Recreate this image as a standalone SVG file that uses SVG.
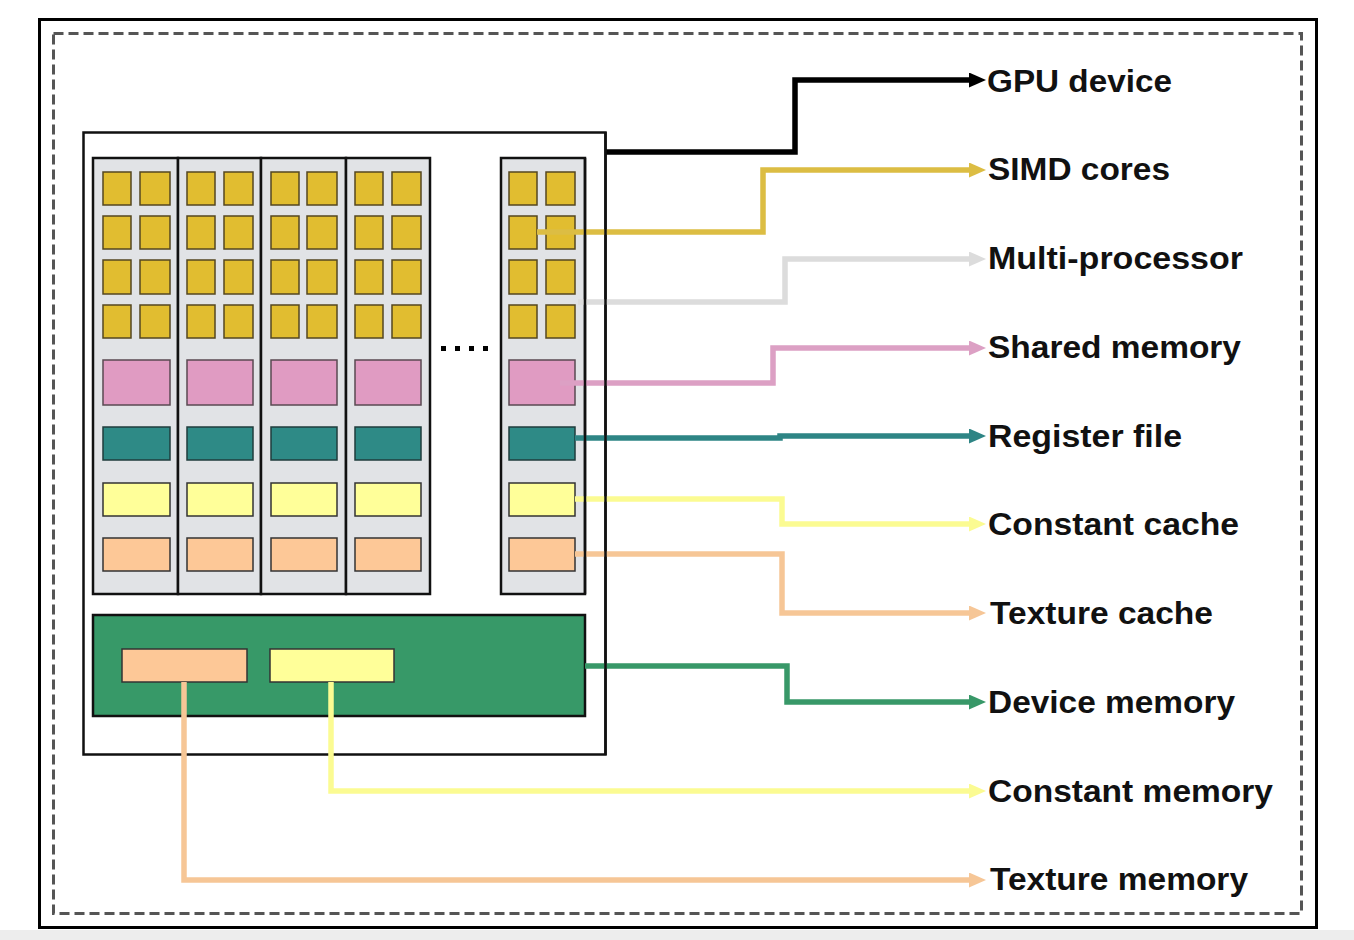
<svg xmlns="http://www.w3.org/2000/svg" width="1354" height="940" viewBox="0 0 1354 940">
<style>
.core{fill:#e1bd30;stroke:#544720;stroke-width:1.5}
.panel{fill:#e1e3e6;stroke:#111;stroke-width:2.5}
.shm{fill:#e09bc2;stroke:#5a4a52;stroke-width:1.5}
.reg{fill:#2e8a86;stroke:#1f3d3c;stroke-width:1.5}
.cc{fill:#ffff99;stroke:#333;stroke-width:1.5}
.tc{fill:#fdc897;stroke:#333;stroke-width:1.5}
.lbl{font-family:"Liberation Sans",Arial,sans-serif;font-weight:bold;font-size:31px;fill:#111}
.con{fill:none;stroke-width:5.5;stroke-linejoin:miter}
</style>
<defs>
<marker id="aBlack" viewBox="0 0 17 15" refX="6" refY="7.5" markerWidth="17" markerHeight="15" markerUnits="userSpaceOnUse" orient="auto"><path d="M0,0 L17,7.5 L0,15 z" fill="#000"/></marker>
<marker id="aGold" viewBox="0 0 17 15" refX="6" refY="7.5" markerWidth="17" markerHeight="15" markerUnits="userSpaceOnUse" orient="auto"><path d="M0,0 L17,7.5 L0,15 z" fill="#dcbd43"/></marker>
<marker id="aGray" viewBox="0 0 17 15" refX="6" refY="7.5" markerWidth="17" markerHeight="15" markerUnits="userSpaceOnUse" orient="auto"><path d="M0,0 L17,7.5 L0,15 z" fill="#dcdcdc"/></marker>
<marker id="aPink" viewBox="0 0 17 15" refX="6" refY="7.5" markerWidth="17" markerHeight="15" markerUnits="userSpaceOnUse" orient="auto"><path d="M0,0 L17,7.5 L0,15 z" fill="#dca0c4"/></marker>
<marker id="aTeal" viewBox="0 0 17 15" refX="6" refY="7.5" markerWidth="17" markerHeight="15" markerUnits="userSpaceOnUse" orient="auto"><path d="M0,0 L17,7.5 L0,15 z" fill="#2e8585"/></marker>
<marker id="aYellow" viewBox="0 0 17 15" refX="6" refY="7.5" markerWidth="17" markerHeight="15" markerUnits="userSpaceOnUse" orient="auto"><path d="M0,0 L17,7.5 L0,15 z" fill="#fbfb92"/></marker>
<marker id="aPeach" viewBox="0 0 17 15" refX="6" refY="7.5" markerWidth="17" markerHeight="15" markerUnits="userSpaceOnUse" orient="auto"><path d="M0,0 L17,7.5 L0,15 z" fill="#f6c696"/></marker>
<marker id="aGreen" viewBox="0 0 17 15" refX="6" refY="7.5" markerWidth="17" markerHeight="15" markerUnits="userSpaceOnUse" orient="auto"><path d="M0,0 L17,7.5 L0,15 z" fill="#389868"/></marker>
</defs>
<rect x="0" y="0" width="1354" height="940" fill="#fff"/>
<rect x="0" y="930" width="1354" height="10" fill="#ededed"/>
<g id="frame">
<rect x="39.5" y="19.5" width="1277" height="908" fill="#fff" stroke="#000" stroke-width="3"/>
<rect x="53.5" y="33.5" width="1248" height="880" fill="none" stroke="#555" stroke-width="3" stroke-dasharray="10,5"/>
</g>
<g id="gpu-device">
<rect x="83.5" y="132.5" width="522" height="622" fill="#fff" stroke="#111" stroke-width="2.5"/>
</g>
<g id="mp1">
<rect class="panel" x="93" y="158" width="85" height="436"/>
<rect class="core" x="103" y="172" width="28" height="33"/><rect class="core" x="140" y="172" width="30" height="33"/>
<rect class="core" x="103" y="216" width="28" height="33"/><rect class="core" x="140" y="216" width="30" height="33"/>
<rect class="core" x="103" y="260" width="28" height="34"/><rect class="core" x="140" y="260" width="30" height="34"/>
<rect class="core" x="103" y="305" width="28" height="33"/><rect class="core" x="140" y="305" width="30" height="33"/>
<rect class="shm" x="103" y="360" width="67" height="45"/>
<rect class="reg" x="103" y="427" width="67" height="33"/>
<rect class="cc" x="103" y="483" width="67" height="33"/>
<rect class="tc" x="103" y="538" width="67" height="33"/>
</g>
<g id="mp2">
<rect class="panel" x="178" y="158" width="83" height="436"/>
<rect class="core" x="187" y="172" width="28" height="33"/><rect class="core" x="224" y="172" width="29" height="33"/>
<rect class="core" x="187" y="216" width="28" height="33"/><rect class="core" x="224" y="216" width="29" height="33"/>
<rect class="core" x="187" y="260" width="28" height="34"/><rect class="core" x="224" y="260" width="29" height="34"/>
<rect class="core" x="187" y="305" width="28" height="33"/><rect class="core" x="224" y="305" width="29" height="33"/>
<rect class="shm" x="187" y="360" width="66" height="45"/>
<rect class="reg" x="187" y="427" width="66" height="33"/>
<rect class="cc" x="187" y="483" width="66" height="33"/>
<rect class="tc" x="187" y="538" width="66" height="33"/>
</g>
<g id="mp3">
<rect class="panel" x="261" y="158" width="85" height="436"/>
<rect class="core" x="271" y="172" width="28" height="33"/><rect class="core" x="307" y="172" width="30" height="33"/>
<rect class="core" x="271" y="216" width="28" height="33"/><rect class="core" x="307" y="216" width="30" height="33"/>
<rect class="core" x="271" y="260" width="28" height="34"/><rect class="core" x="307" y="260" width="30" height="34"/>
<rect class="core" x="271" y="305" width="28" height="33"/><rect class="core" x="307" y="305" width="30" height="33"/>
<rect class="shm" x="271" y="360" width="66" height="45"/>
<rect class="reg" x="271" y="427" width="66" height="33"/>
<rect class="cc" x="271" y="483" width="66" height="33"/>
<rect class="tc" x="271" y="538" width="66" height="33"/>
</g>
<g id="mp4">
<rect class="panel" x="346" y="158" width="84" height="436"/>
<rect class="core" x="355" y="172" width="28" height="33"/><rect class="core" x="392" y="172" width="29" height="33"/>
<rect class="core" x="355" y="216" width="28" height="33"/><rect class="core" x="392" y="216" width="29" height="33"/>
<rect class="core" x="355" y="260" width="28" height="34"/><rect class="core" x="392" y="260" width="29" height="34"/>
<rect class="core" x="355" y="305" width="28" height="33"/><rect class="core" x="392" y="305" width="29" height="33"/>
<rect class="shm" x="355" y="360" width="66" height="45"/>
<rect class="reg" x="355" y="427" width="66" height="33"/>
<rect class="cc" x="355" y="483" width="66" height="33"/>
<rect class="tc" x="355" y="538" width="66" height="33"/>
</g>
<g id="ellipsis" fill="#000">
<rect x="441" y="346" width="5" height="5"/><rect x="455" y="346" width="5" height="5"/><rect x="469" y="346" width="5" height="5"/><rect x="483" y="346" width="5" height="5"/>
</g>
<g id="mpN">
<rect class="panel" x="501" y="158" width="84" height="436"/>
<rect class="core" x="509" y="172" width="28" height="33"/><rect class="core" x="546" y="172" width="29" height="33"/>
<rect class="core" x="509" y="216" width="28" height="33"/><rect class="core" x="546" y="216" width="29" height="33"/>
<rect class="core" x="509" y="260" width="28" height="34"/><rect class="core" x="546" y="260" width="29" height="34"/>
<rect class="core" x="509" y="305" width="28" height="33"/><rect class="core" x="546" y="305" width="29" height="33"/>
<rect class="shm" x="509" y="360" width="66" height="45"/>
<rect class="reg" x="509" y="427" width="66" height="33"/>
<rect class="cc" x="509" y="483" width="66" height="33"/>
<rect class="tc" x="509" y="538" width="66" height="33"/>
</g>
<g id="device-memory">
<rect x="93" y="615" width="492" height="101" fill="#379968" stroke="#111" stroke-width="2.5"/>
<rect x="122" y="649" width="125" height="33" fill="#fdc897" stroke="#333" stroke-width="1.5"/>
<rect x="270" y="649" width="124" height="33" fill="#ffff99" stroke="#333" stroke-width="1.5"/>
</g>
<g id="connectors">
<path class="con" stroke="#000" stroke-width="4.5" d="M605,152 H795 V80 H975" marker-end="url(#aBlack)"/>
<path class="con" stroke="#dcbd43" d="M537,232 H763 V170 H975" marker-end="url(#aGold)"/>
<path class="con" stroke="#dcdcdc" d="M578,302 H785 V259 H975" marker-end="url(#aGray)"/>
<path class="con" stroke="#dca0c4" d="M560,383 H773 V348 H975" marker-end="url(#aPink)"/>
<path class="con" stroke="#2e8585" d="M575,438 H780 V436 H975" marker-end="url(#aTeal)"/>
<path class="con" stroke="#fbfb92" d="M575,499 H782 V524 H975" marker-end="url(#aYellow)"/>
<path class="con" stroke="#f6c696" d="M575,554 H782 V613 H975" marker-end="url(#aPeach)"/>
<path class="con" stroke="#389868" d="M585,666 H787 V702 H975" marker-end="url(#aGreen)"/>
<path class="con" stroke="#fbfb92" d="M331,682 V791 H975" marker-end="url(#aYellow)"/>
<path class="con" stroke="#f6c696" d="M184,682 V880 H975" marker-end="url(#aPeach)"/>
</g>
<g id="outline-overlay" fill="none" stroke="#111" stroke-width="2.5">
<line x1="605.5" y1="132" x2="605.5" y2="755"/>
<line x1="585" y1="158" x2="585" y2="594"/>
</g>
<g id="labels">
<text class="lbl" x="987" y="92" textLength="185" lengthAdjust="spacingAndGlyphs">GPU device</text>
<text class="lbl" x="988" y="180" textLength="182" lengthAdjust="spacingAndGlyphs">SIMD cores</text>
<text class="lbl" x="988" y="269" textLength="255" lengthAdjust="spacingAndGlyphs">Multi-processor</text>
<text class="lbl" x="988" y="358" textLength="253" lengthAdjust="spacingAndGlyphs">Shared memory</text>
<text class="lbl" x="988" y="447" textLength="194" lengthAdjust="spacingAndGlyphs">Register file</text>
<text class="lbl" x="988" y="535" textLength="251" lengthAdjust="spacingAndGlyphs">Constant cache</text>
<text class="lbl" x="990" y="624" textLength="223" lengthAdjust="spacingAndGlyphs">Texture cache</text>
<text class="lbl" x="988" y="713" textLength="247" lengthAdjust="spacingAndGlyphs">Device memory</text>
<text class="lbl" x="988" y="802" textLength="285" lengthAdjust="spacingAndGlyphs">Constant memory</text>
<text class="lbl" x="990" y="890" textLength="258" lengthAdjust="spacingAndGlyphs">Texture memory</text>
</g>
</svg>
